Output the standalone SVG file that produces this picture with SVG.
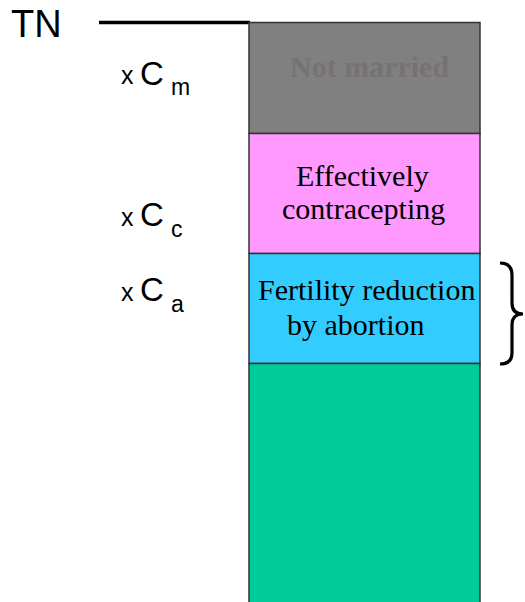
<svg xmlns="http://www.w3.org/2000/svg" width="525" height="602" viewBox="0 0 525 602">
<style>
.lbl{font-family:"Liberation Sans",Arial,sans-serif;fill:#000}
.x{font-size:25px}
.c{font-size:33px}
.s{font-size:23px}
.box{stroke:#333;stroke-width:1.5}
.bt{font-family:"Liberation Serif","Times New Roman",serif;font-size:30px;fill:#000}
</style>
<rect width="525" height="602" fill="#fff"/>
<g id="labels">
<text class="lbl" x="11" y="37" font-size="38">TN</text>
<text class="lbl x" x="121" y="84">x</text>
<text class="lbl c" x="140" y="85">C</text>
<text class="lbl s" x="171" y="95">m</text>
<text class="lbl x" x="121" y="226">x</text>
<text class="lbl c" x="140" y="226">C</text>
<text class="lbl s" x="171" y="237">c</text>
<text class="lbl x" x="121" y="301">x</text>
<text class="lbl c" x="140" y="301">C</text>
<text class="lbl s" x="171" y="312">a</text>
</g>
<g id="connectors">
<line x1="99" y1="22.5" x2="250" y2="22.5" stroke="#000" stroke-width="3.5"/>
<path d="M500,263 Q512,263 512,275 L512,303 Q512,314 523,314 Q512,314 512,325 L512,353 Q512,364 500,364" fill="none" stroke="#000" stroke-width="3.2"/>
</g>
<g id="not-married">
<rect class="box" x="249" y="22.5" width="231" height="111" fill="#808080"/>
<text x="290" y="77" font-family="'Liberation Serif','Times New Roman',serif" font-size="30" font-weight="bold" fill="#767272">Not married</text>
</g>
<g id="contracepting">
<rect class="box" x="249" y="133.5" width="231" height="120" fill="#FF99FF"/>
<text class="bt" x="296" y="186">Effectively</text>
<text class="bt" x="282" y="219">contracepting</text>
</g>
<g id="abortion">
<rect class="box" x="249" y="253.5" width="231" height="110" fill="#33CCFF"/>
<text class="bt" x="258" y="300">Fertility reduction</text>
<text class="bt" x="287" y="335">by abortion</text>
</g>
<g id="remaining">
<rect class="box" x="249" y="363.5" width="231" height="245" fill="#00CC99"/>
</g>
</svg>
